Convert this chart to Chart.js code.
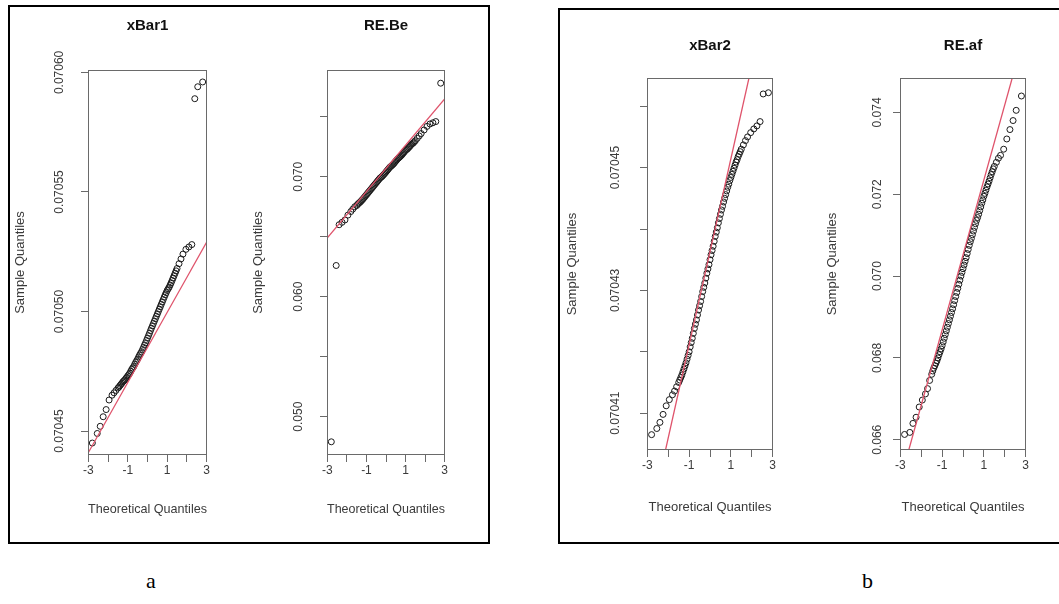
<!DOCTYPE html>
<html>
<head>
<meta charset="utf-8">
<script src="https://cdn.jsdelivr.net/npm/chart.js@4.4.0/dist/chart.umd.min.js"></script>
<style>
  body { margin: 0; background: #fff; width: 1059px; height: 604px; position: relative; overflow: hidden; }
  .frame { position: absolute; border: 2px solid #000; box-sizing: border-box; }
  .plot { position: absolute; }
  .tag { position: absolute; font-family: "Liberation Serif", "Times New Roman", serif; font-size: 22px; color: #000; }
</style>
</head>
<body>
<div class="frame" style="left:8px;top:5px;width:482px;height:539px"></div>
<div class="frame" style="left:558px;top:8px;width:520px;height:536px"></div>
<div class="plot" id="p1"><canvas id="c1"></canvas></div>
<div class="plot" id="p2"><canvas id="c2"></canvas></div>
<div class="plot" id="p3"><canvas id="c3"></canvas></div>
<div class="plot" id="p4"><canvas id="c4"></canvas></div>
<div class="tag" style="left:146px;top:568px">a</div>
<div class="tag" style="left:862px;top:568px">b</div>

<script>
// cuantiles teoricos (eje x) comunes a los cuatro graficos
const qx = [-2.8, -2.55, -2.4, -2.25, -2.1, -1.95, -1.8, -1.7, -1.6,
  -1.5, -1.45, -1.4, -1.35, -1.3, -1.25, -1.2, -1.15, -1.1, -1.05, -1.0, -0.95, -0.9, -0.85, -0.8, -0.75,
  -0.7, -0.65, -0.6, -0.55, -0.5, -0.45, -0.4, -0.35, -0.3, -0.25, -0.2, -0.15, -0.1, -0.05, 0,
  0.05, 0.1, 0.15, 0.2, 0.25, 0.3, 0.35, 0.4, 0.45, 0.5, 0.55, 0.6, 0.65, 0.7, 0.75, 0.8, 0.85, 0.9, 0.95,
  1.0, 1.05, 1.1, 1.15, 1.2, 1.25, 1.3, 1.35, 1.4, 1.45, 1.5,
  1.6, 1.7, 1.8, 1.95, 2.1, 2.25, 2.4, 2.55, 2.8];

const xBar1 = [0.0704450, 0.0704490, 0.0704520, 0.0704560, 0.0704590, 0.0704630, 0.0704650, 0.0704660, 0.0704670,
  0.0704680, 0.0704684, 0.0704690, 0.0704695, 0.0704700, 0.0704706, 0.0704710, 0.0704714, 0.0704720, 0.0704725,
  0.0704731, 0.0704736, 0.0704742, 0.0704750, 0.0704758, 0.0704764, 0.0704770, 0.0704779, 0.0704787, 0.0704794,
  0.0704801, 0.0704810, 0.0704818, 0.0704825, 0.0704832, 0.0704841, 0.0704850, 0.0704860, 0.0704869, 0.0704879,
  0.0704889, 0.0704899, 0.0704909, 0.0704920, 0.0704930, 0.0704940, 0.0704950, 0.0704960, 0.0704970, 0.0704980,
  0.0704990, 0.0705000, 0.0705010, 0.0705020, 0.0705030, 0.0705040, 0.0705050, 0.0705060, 0.0705070, 0.0705079,
  0.0705088, 0.0705095, 0.0705102, 0.0705111, 0.0705120, 0.0705130, 0.0705140, 0.0705150, 0.0705160, 0.0705170,
  0.0705180, 0.0705200, 0.0705220, 0.0705240, 0.0705260, 0.0705270, 0.0705280, 0.0705890, 0.0705940, 0.0705960];

const reBe = [0.04790, 0.06260, 0.06600, 0.06620, 0.06640, 0.06680, 0.06710, 0.06730, 0.06750,
  0.06760, 0.06770, 0.06778, 0.06785, 0.06792, 0.06802, 0.06810, 0.06820, 0.06830, 0.06840, 0.06850, 0.06860,
  0.06870, 0.06880, 0.06890, 0.06900, 0.06910, 0.06920, 0.06930, 0.06940, 0.06950, 0.06960, 0.06970, 0.06980,
  0.06990, 0.06996, 0.07003, 0.07012, 0.07021, 0.07030, 0.07040, 0.07050, 0.07060, 0.07070, 0.07080, 0.07087,
  0.07094, 0.07102, 0.07110, 0.07120, 0.07130, 0.07140, 0.07150, 0.07157, 0.07164, 0.07172, 0.07180, 0.07190,
  0.07200, 0.07210, 0.07220, 0.07226, 0.07232, 0.07242, 0.07250, 0.07260, 0.07270, 0.07276, 0.07282, 0.07292,
  0.07300, 0.07320, 0.07340, 0.07360, 0.07390, 0.07420, 0.07440, 0.07450, 0.07460, 0.07780];

const xBar2 = [0.0704065, 0.0704075, 0.0704085, 0.0704098, 0.0704112, 0.0704122, 0.0704130, 0.0704136, 0.0704143,
  0.0704150, 0.0704154, 0.0704158, 0.0704162, 0.0704167, 0.0704172, 0.0704177, 0.0704182, 0.0704188, 0.0704194,
  0.0704200, 0.0704208, 0.0704215, 0.0704222, 0.0704230, 0.0704238, 0.0704245, 0.0704252, 0.0704260, 0.0704268,
  0.0704275, 0.0704282, 0.0704290, 0.0704298, 0.0704305, 0.0704312, 0.0704320, 0.0704328, 0.0704335, 0.0704342,
  0.0704350, 0.0704358, 0.0704365, 0.0704372, 0.0704380, 0.0704388, 0.0704395, 0.0704402, 0.0704410, 0.0704417,
  0.0704424, 0.0704431, 0.0704437, 0.0704444, 0.0704450, 0.0704456, 0.0704462, 0.0704468, 0.0704473, 0.0704479,
  0.0704484, 0.0704489, 0.0704494, 0.0704499, 0.0704504, 0.0704509, 0.0704513, 0.0704518, 0.0704522, 0.0704526,
  0.0704530, 0.0704537, 0.0704544, 0.0704550, 0.0704557, 0.0704563, 0.0704568, 0.0704575, 0.0704620, 0.0704622];

const reAf = [0.06613, 0.06618, 0.06640, 0.06655, 0.06680, 0.06697, 0.06712, 0.06725, 0.06745,
  0.06760, 0.06768, 0.06775, 0.06781, 0.06787, 0.06793, 0.06800, 0.06808, 0.06815, 0.06822, 0.06830, 0.06839,
  0.06848, 0.06857, 0.06866, 0.06875, 0.06884, 0.06893, 0.06902, 0.06911, 0.06920, 0.06930, 0.06940, 0.06950,
  0.06960, 0.06970, 0.06980, 0.06990, 0.07000, 0.07009, 0.07018, 0.07027, 0.07036, 0.07045, 0.07055, 0.07065,
  0.07075, 0.07084, 0.07092, 0.07101, 0.07110, 0.07119, 0.07128, 0.07136, 0.07143, 0.07151, 0.07160, 0.07169,
  0.07178, 0.07186, 0.07195, 0.07202, 0.07210, 0.07218, 0.07225, 0.07232, 0.07240, 0.07248, 0.07255, 0.07262,
  0.07268, 0.07278, 0.07288, 0.07295, 0.07310, 0.07335, 0.07358, 0.07380, 0.07405, 0.07440];

// qqline: extremos de la recta
const lineX = [-3.5, 3.5];
const xBar1Line = [0.0704337, 0.0705363];
const reBeLine = [0.063945, 0.077455];
const xBar2Line = [0.0703833, 0.0704893];
const reAfLine = [0.064100, 0.076930];

// ejes
const xTicks = [-3, -2, -1, 0, 1, 2, 3];
const xLabels = ['-3', '', '-1', '', '1', '', '3'];
const xBar1Range = [0.070440, 0.070601];
const xBar1Ticks = [0.07045, 0.07050, 0.07055, 0.07060];
const xBar1Labels = ['0.07045', '0.07050', '0.07055', '0.07060'];
const reBeRange = [0.0468, 0.0789];
const reBeTicks = [0.050, 0.055, 0.060, 0.065, 0.070, 0.075];
const reBeLabels = ['0.050', '', '0.060', '', '0.070', ''];
const xBar2Range = [0.0704040, 0.0704646];
const xBar2Ticks = [0.07041, 0.07042, 0.07043, 0.07044, 0.07045, 0.07046];
const xBar2Labels = ['0.07041', '', '0.07043', '', '0.07045', ''];
const reAfRange = [0.06575, 0.07484];
const reAfTicks = [0.066, 0.068, 0.070, 0.072, 0.074];
const reAfLabels = ['0.066', '0.068', '0.070', '0.072', '0.074'];

const FONT = '"Liberation Sans", Arial, sans-serif';
const TXT = '#3a3a3a';
const AXIS = '#6a6a6a';

// marco alrededor del area de datos (estilo R)
const boxPlugin = {
  id: 'box',
  afterDraw(chart) {
    const a = chart.chartArea, ctx = chart.ctx;
    ctx.save();
    ctx.strokeStyle = AXIS;
    ctx.lineWidth = 1;
    ctx.strokeRect(Math.round(a.left) + 0.5, Math.round(a.top) + 0.5,
      Math.round(a.right - a.left) - 1, Math.round(a.bottom - a.top) - 1);
    ctx.restore();
  }
};

function qq(cfg) {
  const yW = 90, topH = 60, xH = 75;
  const [l, t, r, b] = cfg.box;
  const div = document.getElementById(cfg.div);
  div.style.left = (l - yW) + 'px';
  div.style.top = (t - topH) + 'px';
  div.style.width = (2 * yW + (r - l)) + 'px';
  div.style.height = (topH + (b - t) + xH) + 'px';

  new Chart(document.getElementById(cfg.canvas), {
    type: 'scatter',
    data: {
      datasets: [{
        data: lineX.map((x, i) => ({ x: x, y: cfg.line[i] })),
        showLine: true,
        borderColor: '#DF536B',
        borderWidth: 1.3,
        pointRadius: 0,
        order: 0,
        clip: 0
      }, {
        data: qx.map((x, i) => ({ x: x, y: cfg.ys[i] })),
        pointStyle: 'circle',
        pointRadius: 3,
        pointBorderWidth: 1,
        borderColor: '#1a1a1a',
        backgroundColor: 'rgba(0,0,0,0)',
        order: 1,
        clip: false
      }]
    },
    options: {
      responsive: true,
      maintainAspectRatio: false,
      animation: false,
      layout: { padding: 0 },
      plugins: {
        legend: { display: false },
        tooltip: { enabled: false },
        title: {
          display: true,
          text: cfg.title,
          color: '#111',
          font: { family: FONT, size: 15, weight: 'bold', lineHeight: 1 },
          padding: { top: cfg.titlePad, bottom: topH - 15 - cfg.titlePad }
        }
      },
      scales: {
        x: {
          type: 'linear',
          min: -3.02,
          max: 3.02,
          afterFit: s => { s.height = xH; },
          afterBuildTicks: s => { s.ticks = xTicks.map(v => ({ value: v })); },
          ticks: {
            callback: (v, i) => xLabels[i],
            color: TXT,
            font: { family: FONT, size: 12 },
            padding: 1,
            maxRotation: 0,
            autoSkip: false
          },
          grid: { drawOnChartArea: false, tickLength: 7, tickColor: AXIS, color: AXIS },
          border: { display: false },
          title: {
            display: true,
            text: 'Theoretical Quantiles',
            color: TXT,
            font: { family: FONT, size: 13 },
            padding: { top: 0, bottom: cfg.tqPad }
          }
        },
        y: {
          type: 'linear',
          min: cfg.range[0],
          max: cfg.range[1],
          afterFit: s => { s.width = yW; },
          afterBuildTicks: s => { s.ticks = cfg.ticks.map(v => ({ value: v })); },
          ticks: {
            callback: (v, i) => cfg.labels[i],
            color: TXT,
            font: { family: FONT, size: 12 },
            minRotation: 90,
            maxRotation: 90,
            crossAlign: 'center',
            padding: cfg.labelPad,
            autoSkip: false
          },
          grid: { drawOnChartArea: false, tickLength: 7, tickColor: AXIS, color: AXIS },
          border: { display: false },
          title: {
            display: true,
            text: 'Sample Quantiles',
            color: TXT,
            font: { family: FONT, size: 13 },
            padding: { top: yW - cfg.sqGap - 7.8, bottom: 0 }
          }
        },
        // eje vacio a la derecha: mismo ancho que el izquierdo para centrar el titulo
        yr: {
          type: 'linear',
          position: 'right',
          min: 0,
          max: 1,
          afterFit: s => { s.width = yW; },
          ticks: { display: false },
          grid: { display: false },
          border: { display: false }
        }
      }
    },
    plugins: [boxPlugin]
  });
}

qq({ div: 'p1', canvas: 'c1', title: 'xBar1', box: [88, 70, 207, 455], titlePad: 8, tqPad: 13, sqGap: 68, labelPad: 0,
  ys: xBar1, line: xBar1Line, range: xBar1Range, ticks: xBar1Ticks, labels: xBar1Labels });
qq({ div: 'p2', canvas: 'c2', title: 'RE.Be', box: [327, 70, 445, 455], titlePad: 8, tqPad: 13, sqGap: 69, labelPad: 6,
  ys: reBe, line: reBeLine, range: reBeRange, ticks: reBeTicks, labels: reBeLabels });
qq({ div: 'p3', canvas: 'c3', title: 'xBar2', box: [647, 78, 773, 450], titlePad: 20, tqPad: 10, sqGap: 75, labelPad: 3,
  ys: xBar2, line: xBar2Line, range: xBar2Range, ticks: xBar2Ticks, labels: xBar2Labels });
qq({ div: 'p4', canvas: 'c4', title: 'RE.af', box: [900, 78, 1026, 450], titlePad: 20, tqPad: 10, sqGap: 68, labelPad: 0,
  ys: reAf, line: reAfLine, range: reAfRange, ticks: reAfTicks, labels: reAfLabels });
</script>
</body>
</html>
